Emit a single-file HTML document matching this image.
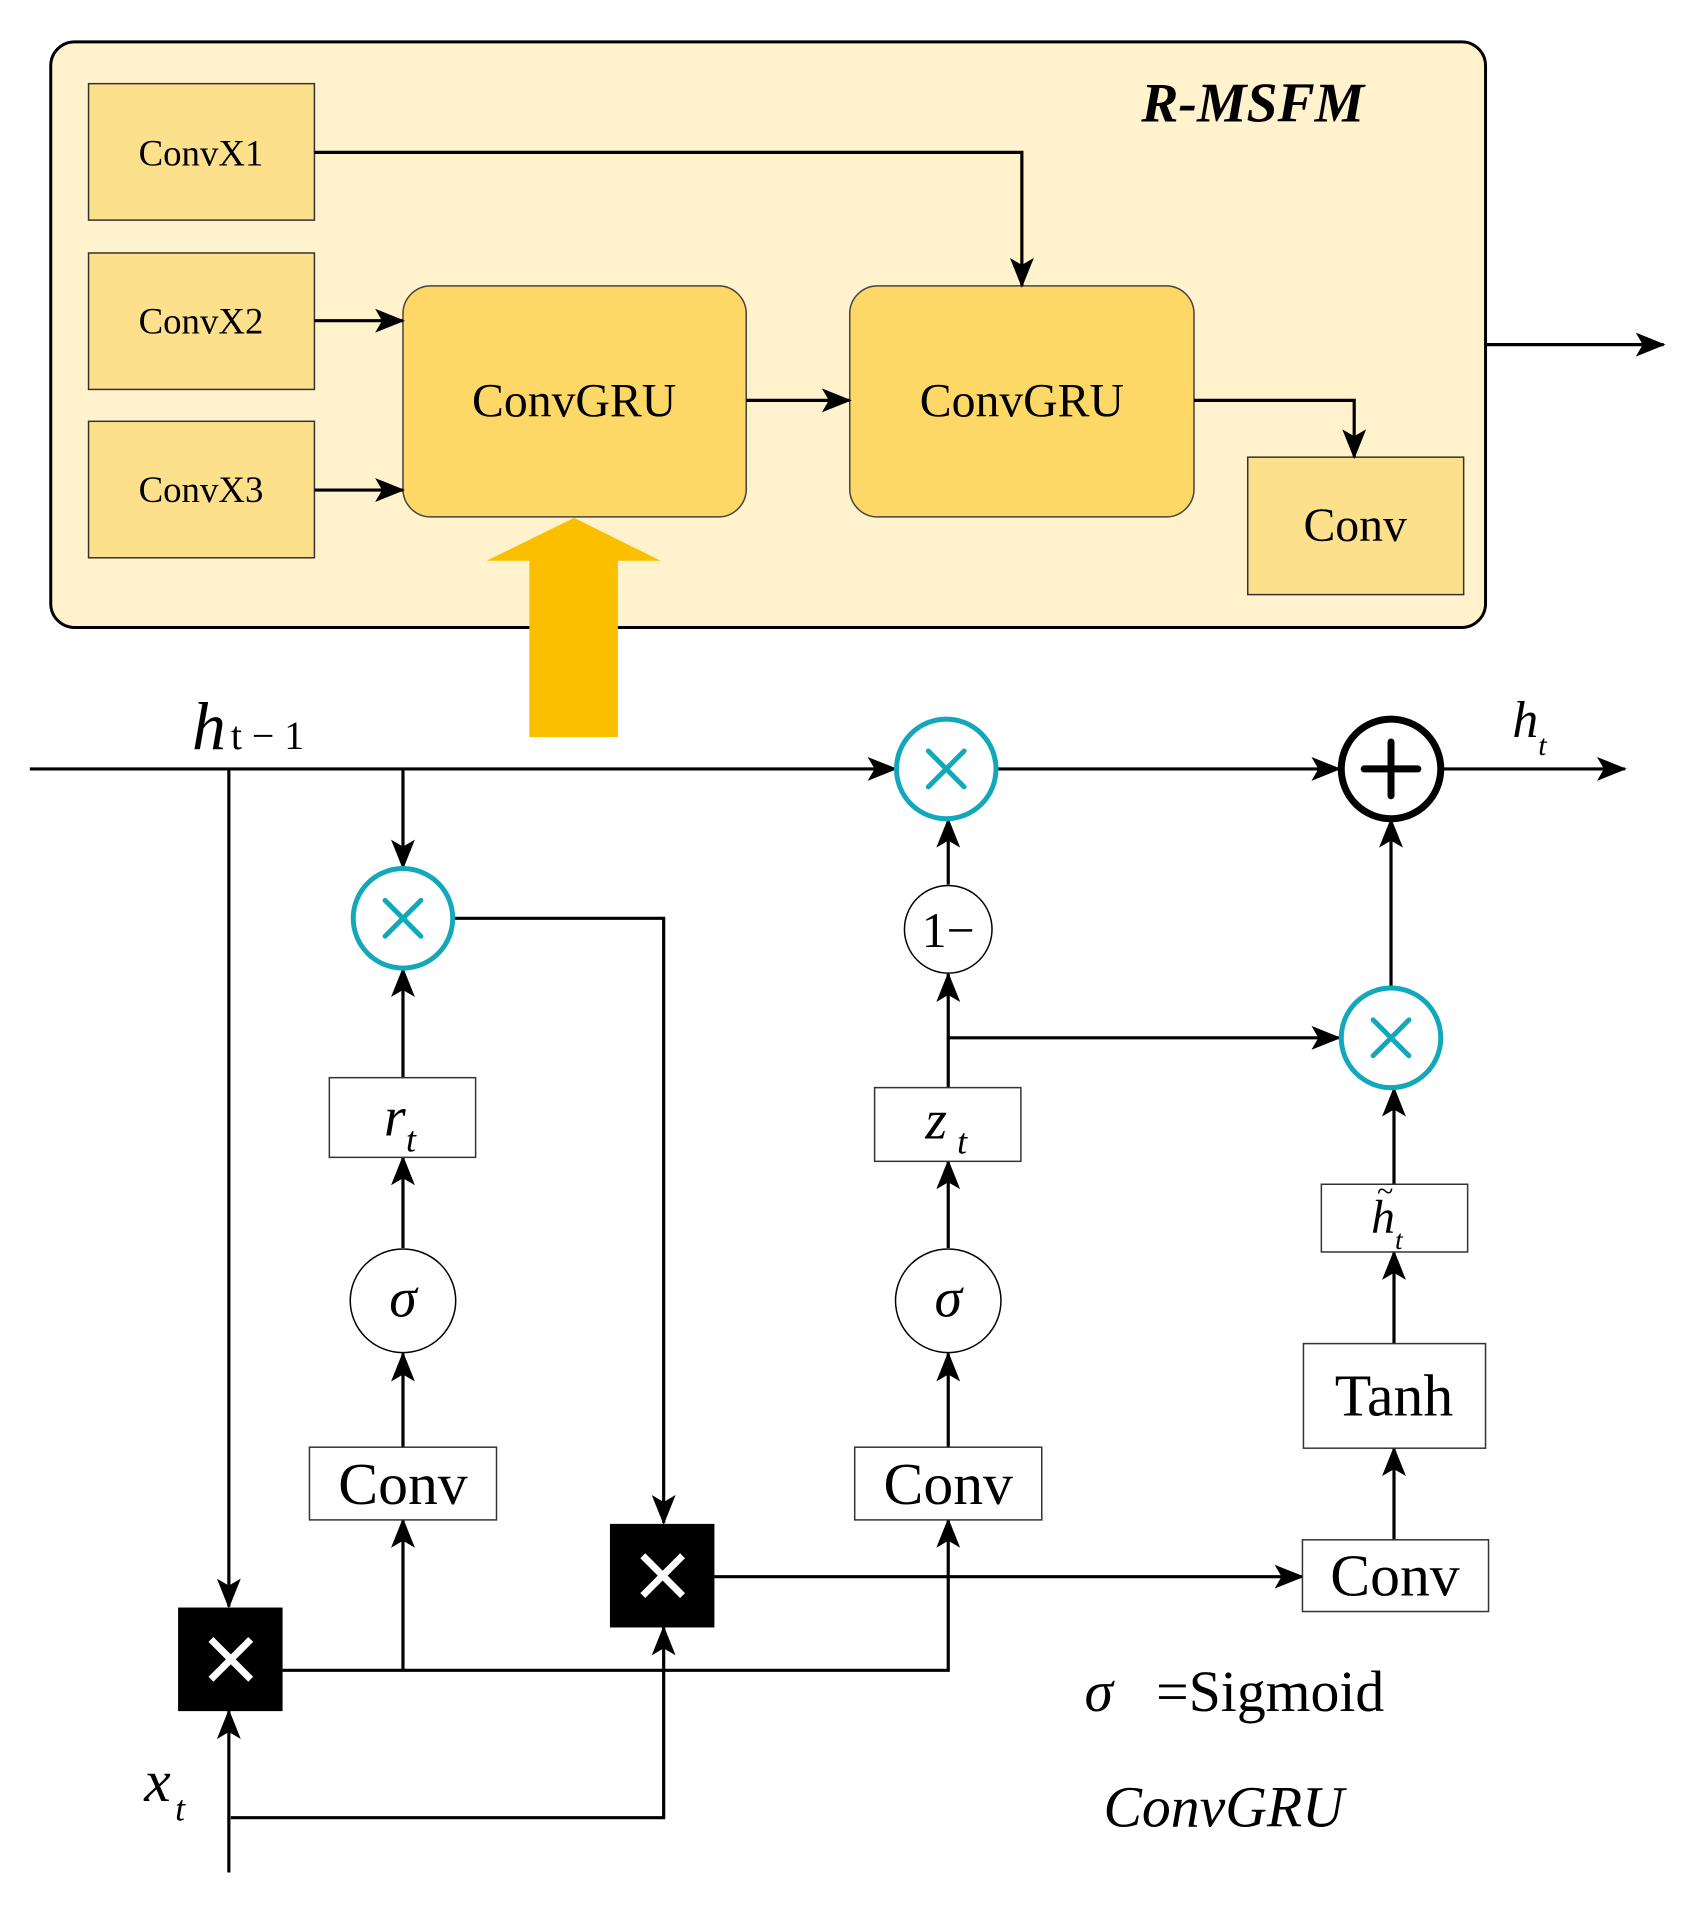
<!DOCTYPE html>
<html><head><meta charset="utf-8"><style>
html,body{margin:0;padding:0;background:#fff;}
svg{display:block;}
text{font-family:"Liberation Serif",serif;}
</style></head><body>
<svg width="1700" height="1910" viewBox="0 0 1700 1910" xmlns="http://www.w3.org/2000/svg">
<defs>
<marker id="a" markerUnits="userSpaceOnUse" markerWidth="30" markerHeight="24" refX="28" refY="12" orient="auto">
<path d="M0,0 L30,12 L0,24 L7,12 Z" fill="#000"/>
</marker>
</defs>
<g transform="scale(0.995 0.996)">
<rect x="51" y="42" width="1442" height="588" rx="24" fill="#FFF2CC" stroke="#000" stroke-width="3"/>
<text x="1147" y="122" font-size="56" font-weight="bold" font-style="italic">R-MSFM</text>
<g fill="#FCE08C" stroke="#333" stroke-width="1.5">
<rect x="89" y="84" width="227" height="137"/>
<rect x="89" y="254" width="227" height="137"/>
<rect x="89" y="423" width="227" height="137"/>
<rect x="1254" y="459" width="217" height="138"/>
</g>
<g fill="#FDD866" stroke="#444" stroke-width="1.5">
<rect x="405" y="287" width="345" height="232" rx="28"/>
<rect x="854" y="287" width="346" height="232" rx="28"/>
</g>
<g font-size="37" text-anchor="middle">
<text x="202" y="166">ConvX1</text>
<text x="202" y="335">ConvX2</text>
<text x="202" y="504">ConvX3</text>
</g>
<g font-size="48" text-anchor="middle">
<text x="577" y="418">ConvGRU</text>
<text x="1027" y="418">ConvGRU</text>
<text x="1362" y="543">Conv</text>
</g>
<g stroke="#000" stroke-width="3.2" fill="none" marker-end="url(#a)">
<polyline points="316,153 1027,153 1027,287"/>
<line x1="316" y1="322" x2="405" y2="322"/>
<line x1="316" y1="492" x2="405" y2="492"/>
<line x1="750" y1="402" x2="854" y2="402"/>
<polyline points="1200,402 1361,402 1361,459"/>
<line x1="1493" y1="346" x2="1672" y2="346"/>
</g>
<polygon points="577,520 664,563 621,563 621,740 532,740 532,563 489,563" fill="#FBBF00"/>
<text x="193" y="752" font-size="68" font-style="italic">h</text>
<text x="232" y="752" font-size="40">t − 1</text>
<text x="1520" y="740" font-size="52" font-style="italic">h</text>
<text x="1546" y="758" font-size="30" font-style="italic">t</text>
<g stroke="#000" stroke-width="3.2" fill="none">
<line x1="30" y1="772" x2="900" y2="772" marker-end="url(#a)"/>
<line x1="1003" y1="772" x2="1346" y2="772" marker-end="url(#a)"/>
<line x1="1449" y1="772" x2="1633" y2="772" marker-end="url(#a)"/>
<line x1="230" y1="772" x2="230" y2="1613" marker-end="url(#a)"/>
<line x1="405" y1="772" x2="405" y2="871" marker-end="url(#a)"/>
<line x1="405" y1="1082" x2="405" y2="973" marker-end="url(#a)"/>
<line x1="405" y1="1253" x2="405" y2="1162" marker-end="url(#a)"/>
<line x1="405" y1="1453" x2="405" y2="1359" marker-end="url(#a)"/>
<line x1="405" y1="1677" x2="405" y2="1526" marker-end="url(#a)"/>
<polyline points="456,922 667,922 667,1529" marker-end="url(#a)"/>
<polyline points="284,1677 953,1677 953,1526" marker-end="url(#a)"/>
<line x1="718" y1="1583" x2="1309" y2="1583" marker-end="url(#a)"/>
<line x1="230" y1="1880" x2="230" y2="1718" marker-end="url(#a)"/>
<polyline points="232,1825 667,1825 667,1634" marker-end="url(#a)"/>
<line x1="953" y1="1453" x2="953" y2="1359" marker-end="url(#a)"/>
<line x1="953" y1="1253" x2="953" y2="1166" marker-end="url(#a)"/>
<line x1="953" y1="1092" x2="953" y2="978" marker-end="url(#a)"/>
<line x1="953" y1="888" x2="953" y2="823" marker-end="url(#a)"/>
<line x1="953" y1="1042" x2="1346" y2="1042" marker-end="url(#a)"/>
<line x1="1398" y1="991" x2="1398" y2="823" marker-end="url(#a)"/>
<line x1="1401" y1="1189" x2="1401" y2="1093" marker-end="url(#a)"/>
<line x1="1401" y1="1349" x2="1401" y2="1257" marker-end="url(#a)"/>
<line x1="1401" y1="1546" x2="1401" y2="1454" marker-end="url(#a)"/>
</g>
<g stroke="#12A8BC" stroke-width="5" fill="#fff">
<circle cx="951" cy="772" r="50"/>
<circle cx="405" cy="922" r="50"/>
<circle cx="1398" cy="1042" r="50"/>
</g>
<g stroke="#12A8BC" stroke-width="5" stroke-linecap="round">
<path d="M933,754 L969,790 M969,754 L933,790"/>
<path d="M387,904 L423,940 M423,904 L387,940"/>
<path d="M1380,1024 L1416,1060 M1416,1024 L1380,1060"/>
</g>
<circle cx="1398" cy="772" r="50" fill="#fff" stroke="#000" stroke-width="7"/>
<path d="M1398,745 L1398,799 M1371,772 L1425,772" stroke="#000" stroke-width="7" stroke-linecap="round"/>
<g stroke="#000" stroke-width="1.5" fill="#fff">
<circle cx="953" cy="933" r="44"/>
<ellipse cx="405" cy="1306" rx="53" ry="52"/>
<ellipse cx="953" cy="1306" rx="53" ry="52"/>
</g>
<text x="953" y="951" font-size="50" text-anchor="middle">1−</text>
<text x="405" y="1322" font-size="56" font-style="italic" text-anchor="middle">σ</text>
<text x="953" y="1322" font-size="56" font-style="italic" text-anchor="middle">σ</text>
<g fill="#fff" stroke="#333" stroke-width="1.5">
<rect x="331" y="1082" width="147" height="80"/>
<rect x="879" y="1092" width="147" height="74"/>
<rect x="1328" y="1189" width="147" height="68"/>
<rect x="1310" y="1349" width="183" height="105"/>
<rect x="311" y="1453" width="188" height="73"/>
<rect x="859" y="1453" width="188" height="73"/>
<rect x="1309" y="1546" width="187" height="72"/>
</g>
<text x="386" y="1140" font-size="56" font-style="italic">r</text>
<text x="408" y="1156" font-size="36" font-style="italic">t</text>
<text x="930" y="1143" font-size="56" font-style="italic">z</text>
<text x="962" y="1158" font-size="36" font-style="italic">t</text>
<text x="1378" y="1238" font-size="48" font-style="italic">h</text>
<text x="1384" y="1206" font-size="30">~</text>
<text x="1402" y="1254" font-size="28" font-style="italic">t</text>
<g font-size="60" text-anchor="middle">
<text x="1401" y="1421">Tanh</text>
<text x="405" y="1510">Conv</text>
<text x="953" y="1510">Conv</text>
<text x="1402" y="1602">Conv</text>
</g>
<rect x="179" y="1614" width="105" height="104" fill="#000"/>
<rect x="613" y="1530" width="105" height="104" fill="#000"/>
<g stroke="#fff" stroke-width="7">
<path d="M212,1646 L252,1686 M252,1646 L212,1686"/>
<path d="M646,1562 L686,1602 M686,1562 L646,1602"/>
</g>
<text x="145" y="1808" font-size="60" font-style="italic">x</text>
<text x="176" y="1828" font-size="36" font-style="italic">t</text>
<text x="1090" y="1718" font-size="58" font-style="italic">σ</text>
<text x="1162" y="1718" font-size="58">=Sigmoid</text>
<text x="1109" y="1834" font-size="58" font-style="italic">ConvGRU</text>
</g>
</svg>
</body></html>
